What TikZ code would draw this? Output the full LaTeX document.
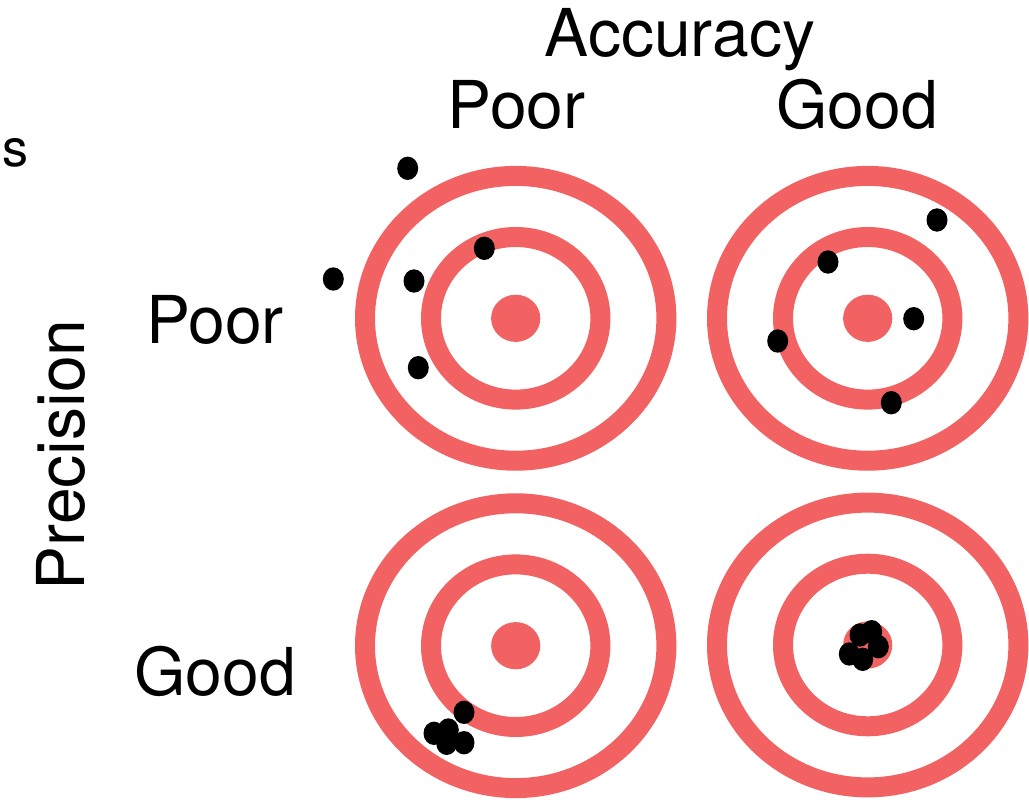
\documentclass[tikz,border=0pt]{standalone}
\usepackage{fontspec}
\setmainfont{TeX Gyre Heros}
\usepackage{tikz}
\usepackage{xcolor}
\definecolor{ringred}{HTML}{F26262}
\newcommand{\bullseye}[2]{%
  \draw[ringred, line width=20pt] (#1,#2) ellipse [x radius=150.7, y radius=142.4];
  \draw[ringred, line width=20pt] (#1,#2) ellipse [x radius=84.7, y radius=81.3];
  \fill[ringred] (#1,#2) ellipse [x radius=24.6, y radius=23.6];
}

\begin{document}
\begin{tikzpicture}[x=1pt, y=-1pt,
    every node/.style={font=\fontsize{66}{79}\selectfont, inner sep=0pt, anchor=base},
    shot/.style={fill=black}]
  \useasboundingbox (0,0) rectangle (1029,800);

  % --- Targets ---
  \bullseye{515.7}{318.3}
  \bullseye{867.7}{318.3}
  \bullseye{515.7}{645.7}
  \bullseye{867.7}{645.0}

  % --- Poor accuracy, poor precision ---
  \fill[shot] (407.7,168.3) ellipse [x radius=10.5, y radius=11.7];
  \fill[shot] (484.3,248.3) ellipse [x radius=10.5, y radius=11.7];
  \fill[shot] (333.3,279.0) ellipse [x radius=10.5, y radius=11.7];
  \fill[shot] (414.0,281.0) ellipse [x radius=10.5, y radius=11.7];
  \fill[shot] (418.3,367.7) ellipse [x radius=10.5, y radius=11.7];

  % --- Good accuracy, poor precision ---
  \fill[shot] (937.0,220.0) ellipse [x radius=10.5, y radius=11.7];
  \fill[shot] (828.0,262.0) ellipse [x radius=10.5, y radius=11.7];
  \fill[shot] (913.7,318.7) ellipse [x radius=10.5, y radius=11.7];
  \fill[shot] (777.7,341.0) ellipse [x radius=10.5, y radius=11.7];
  \fill[shot] (891.3,402.7) ellipse [x radius=10.5, y radius=11.7];

  % --- Poor accuracy, good precision ---
  \fill[shot] (464.0,712.3) ellipse [x radius=10.5, y radius=11.7];
  \fill[shot] (434.0,733.3) ellipse [x radius=10.5, y radius=11.7];
  \fill[shot] (448.3,730.0) ellipse [x radius=10.5, y radius=11.7];
  \fill[shot] (446.7,743.3) ellipse [x radius=10.5, y radius=11.7];
  \fill[shot] (464.0,742.7) ellipse [x radius=10.5, y radius=11.7];

  % --- Good accuracy, good precision ---
  \fill[shot] (871.7,631.7) ellipse [x radius=10.5, y radius=11.7];
  \fill[shot] (860.0,635.0) ellipse [x radius=10.5, y radius=11.7];
  \fill[shot] (878.3,646.7) ellipse [x radius=10.5, y radius=11.7];
  \fill[shot] (849.3,654.0) ellipse [x radius=10.5, y radius=11.7];
  \fill[shot] (862.7,659.3) ellipse [x radius=10.5, y radius=11.7];

  % --- Labels ---
  \node (acc) at (680,56.7) {Accuracy};
  \node (accpoor) at (516.5,128.3) {Poor};
  \node (accgood) at (857,128.3) {Good};
  \node (prec) [rotate=90] at (84,455) {Precision};
  \node (precpoor) at (215,343.3) {Poor};
  \node (precgood) at (215,695) {Good};
  \node (frag) [font=\fontsize{52}{62}\selectfont] at (15,166.7) {s};
\end{tikzpicture}
\end{document}
